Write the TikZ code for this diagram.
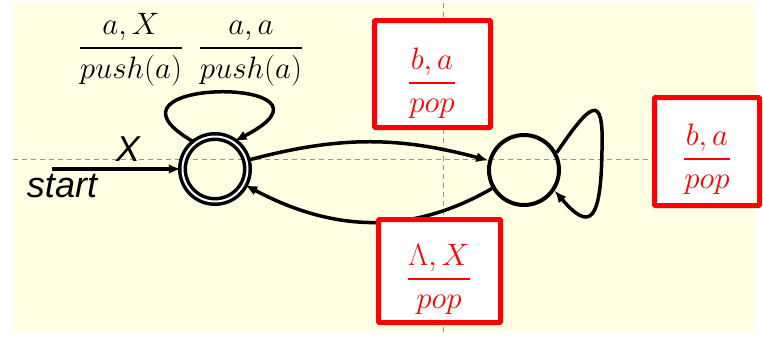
\RequirePackage{fix-cm}
\documentclass[tikz,border=0pt]{standalone}
\usepackage{fontspec}
\newfontfamily\labelfont{Liberation Sans}
\usepackage{amsmath}
\usetikzlibrary{arrows.meta, positioning}
\definecolor{paperyellow}{RGB}{255,255,228}
\definecolor{boxred}{RGB}{255,0,0}
\definecolor{guidegray}{RGB}{150,150,140}
\newcommand{\trfrac}[2]{\genfrac{}{}{2pt}{0}{#1}{#2}}

\begin{document}
\begin{tikzpicture}[
    x=1pt, y=-1pt,
    state/.style={
      circle, draw, line width=4pt, minimum size=70pt, inner sep=0pt
    },
    accepting/.style={
      circle, draw, line width=3.5pt, double=white, double distance=2pt,
      minimum size=65pt, inner sep=0pt
    },
    edge/.style={line width=3.5pt, -{Latex[length=12pt, width=10pt]}},
    guideline/.style={guidegray, line width=1pt, dash pattern=on 5pt off 4pt},
    trans/.style={font=\fontsize{31}{37}\selectfont, anchor=base, inner sep=0pt},
    redbox/.style={
      draw=boxred, fill=white, line width=5pt, rounded corners=1pt
    },
]
    % Background and guides
    \fill[white] (0,0) rectangle (763,338);
    \fill[paperyellow] (13,3) rectangle (755,332);
    \draw[guideline] (13,159) -- (755,159);
    \draw[guideline] (443,3) -- (443,332);

    % States
    \node[accepting] (q0) at (215,169) {};
    \node[state] (q1) at (524,170) {};

    % Start arrow
    \coordinate (startpt) at (52,169);
    \draw[edge, line width=4.5pt] (startpt) -- (q0);
    \node[font=\labelfont\itshape\fontsize{36}{40}\selectfont, inner sep=0pt]
      (startsym) at (128,149) {X};
    \node[font=\labelfont\itshape\fontsize{36}{40}\selectfont, inner sep=0pt,
          anchor=base] (startlbl) at (62,197) {start};

    % Transitions
    \draw[edge] (q0) to[out=15, in=165] (q1);
    \draw[edge] (q1) to[out=-150, in=-28] (q0);
    \draw[edge] (q0.128) .. controls (78,76) and (362,76) .. (q0.55);
    \draw[edge] (q1.28) .. controls (590,104) and (604,90) .. (602,150)
      .. controls (601,222) and (590,232) .. (q1.-34);

    % Loop labels on q0
    \node[trans] (pushx) at (131,55.75) {$\trfrac{a,X}{push(a)}$};
    \node[trans] (pusha) at (251,55.75) {$\trfrac{a,a}{push(a)}$};

    % Red boxes
    \node[redbox, minimum width=116pt, minimum height=107pt] (box1) at (432.5,74) {};
    \node[redbox, minimum width=105pt, minimum height=108pt] (box2) at (707,151.5) {};
    \node[redbox, minimum width=122pt, minimum height=103pt] (box3) at (439.5,271) {};
    \node[trans, boxred] (popba) at (432,90.75) {$\trfrac{b,a}{pop}$};
    \node[trans, boxred] (poploop) at (707,166.75) {$\trfrac{b,a}{pop}$};
    \node[trans, boxred] (poplam) at (439,286.75) {$\trfrac{\Lambda,X}{pop}$};
\end{tikzpicture}
\end{document}
